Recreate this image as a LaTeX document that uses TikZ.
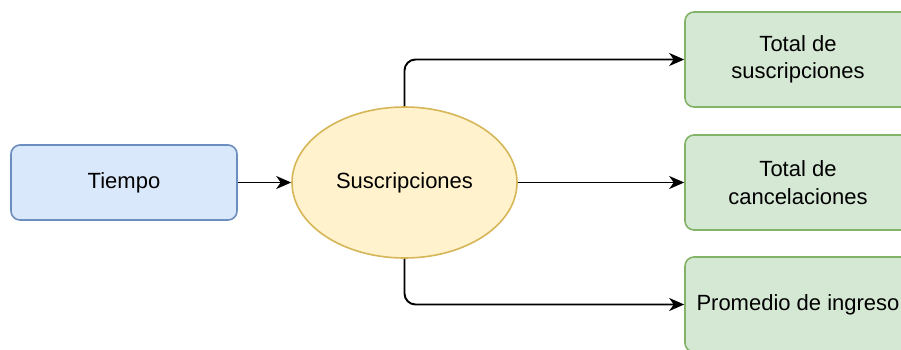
\documentclass[tikz,border=0pt]{standalone}
\usepackage{fontspec}
\setmainfont{Liberation Sans}
\usetikzlibrary{shapes.geometric,arrows.meta}
\definecolor{blueFill}{HTML}{DAE8FC}
\definecolor{blueLine}{HTML}{6C8EBF}
\definecolor{yellowFill}{HTML}{FFF2CC}
\definecolor{yellowLine}{HTML}{D6B656}
\definecolor{greenFill}{HTML}{D5E8D4}
\definecolor{greenLine}{HTML}{82B366}
\begin{document}
\begin{tikzpicture}[x=1pt,y=-1pt,
  every node/.style={font=\fontsize{22}{27.5}\selectfont, align=center, inner sep=0pt},
  box/.style={rectangle, rounded corners=9pt, line width=1.6pt, minimum width=226pt},
  srcbox/.style={box, draw=blueLine, fill=blueFill, minimum height=75pt},
  outbox/.style={box, draw=greenLine, fill=greenFill, minimum height=95pt},
  hub/.style={ellipse, draw=yellowLine, fill=yellowFill, line width=1.6pt,
              minimum width=225pt, minimum height=151pt},
  arr/.style={line width=1.9pt, -{Stealth[length=15pt,width=13pt,inset=4.5pt]}}
]
\useasboundingbox (0,0) rectangle (901,349);
\fill[white] (0,0) rectangle (901,349);

\node[srcbox] (tiempo) at (124,182.5) {Tiempo};
\node[hub] (susc) at (404.5,182.5) {Suscripciones};
\node[outbox] (tsus) at (798,59.5) {Total de\\suscripciones};
\node[outbox] (tcan) at (798,182.5) {Total de\\cancelaciones};
\node[outbox] (prom) at (798,304.5) {Promedio de ingreso};

\draw[arr] (tiempo.east) -- (susc.west);
\draw[arr, rounded corners=11pt] (susc.north) |- (tsus.west);
\draw[arr] (susc.east) -- (tcan.west);
\draw[arr, rounded corners=11pt] (susc.south) |- (prom.west);
\end{tikzpicture}
\end{document}
